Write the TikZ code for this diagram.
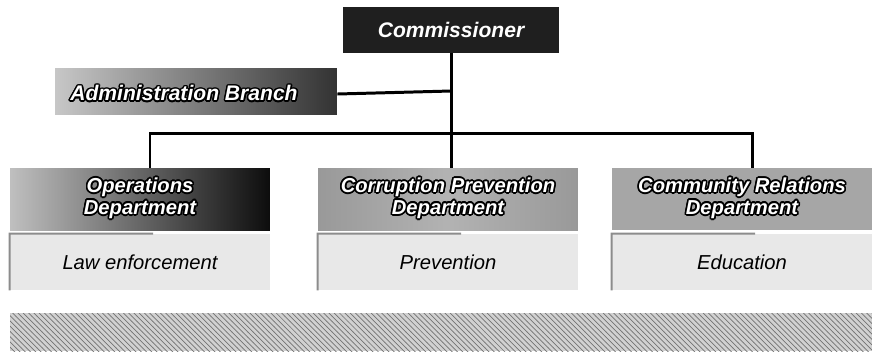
\documentclass[tikz,border=0pt]{standalone}
\usepackage{fontspec}
\setmainfont{Liberation Sans}
\usepackage[copies]{contour}
\contourlength{0.9pt}
\usetikzlibrary{patterns,calc}
\newcommand{\outl}[1]{\contour{black}{#1}}
\begin{document}
\begin{tikzpicture}[x=0.02cm,y=-0.02cm,
  conn/.style={line width=1.7pt,black},
  topbox/.style={rectangle,inner sep=0pt,text=white,font=\bfseries\itshape\fontsize{12}{14}\selectfont},
  hdr/.style={rectangle,inner sep=0pt,minimum width=5.2cm,minimum height=1.24cm,text=white,align=center,
     font=\bfseries\itshape\fontsize{11.5}{13.5}\selectfont},
  low/.style={rectangle,inner sep=0pt,minimum width=5.2cm,minimum height=1.12cm,fill=black!9,
     font=\itshape\fontsize{11.5}{13.5}\selectfont},
  lowedge/.style={draw=black!45,line width=1.2pt}
]
\useasboundingbox (0,0) rectangle (874,353);
% top
\node[topbox,minimum width=4.32cm,minimum height=0.92cm,fill=black!88] (comm) at (451,30) {Commissioner};
\node[topbox,minimum width=5.64cm,minimum height=0.92cm,left color=black!22,right color=black!80] (admin) at (196,91) {};
\node[text=white,font=\bfseries\itshape\fontsize{12}{14}\selectfont] (admintxt) at (184,94) {\outl{Administration Branch}};
% department headers
\node[hdr,left color=black!25,right color=black!95] (ops) at (140,199) {\outl{Operations}\\[-1pt]\outl{Department}};
\node[hdr,left color=black!40,right color=black!40,middle color=black!30] (cpd) at (448,199) {\outl{Corruption Prevention}\\[-1pt]\outl{Department}};
\node[hdr,fill=black!35] (crd) at (742,199) {\outl{Community Relations}\\[-1pt]\outl{Department}};
% lower boxes
\node[low] (opsl) at (140,262) {Law enforcement};
\node[low] (cpdl) at (448,262) {Prevention};
\node[low] (crdl) at (742,262) {Education};
\foreach \n in {opsl,cpdl,crdl}{
  \draw[lowedge] (\n.south west) -- (\n.north west) -- ($(\n.north west)!0.55!(\n.north east)$);
}
% connectors
\coordinate (bus) at (449,133);
\coordinate (opsdrop) at (150,168);
\coordinate (crddrop) at (752,168);
\draw[conn] (comm.south) -- (comm.south |- cpd.north);
\draw[conn] (admin.east |- admintxt) -- (admin.east -| comm.south);
\draw[conn] (opsdrop) -- (opsdrop |- bus) -- (crddrop |- bus) -- (crddrop);
% bottom band
\node[rectangle,inner sep=0pt,minimum width=17.24cm,minimum height=0.76cm,preaction={fill=black!18},
  pattern=north west lines,pattern color=black!55] (band) at (441,332) {};
\end{tikzpicture}
\end{document}
